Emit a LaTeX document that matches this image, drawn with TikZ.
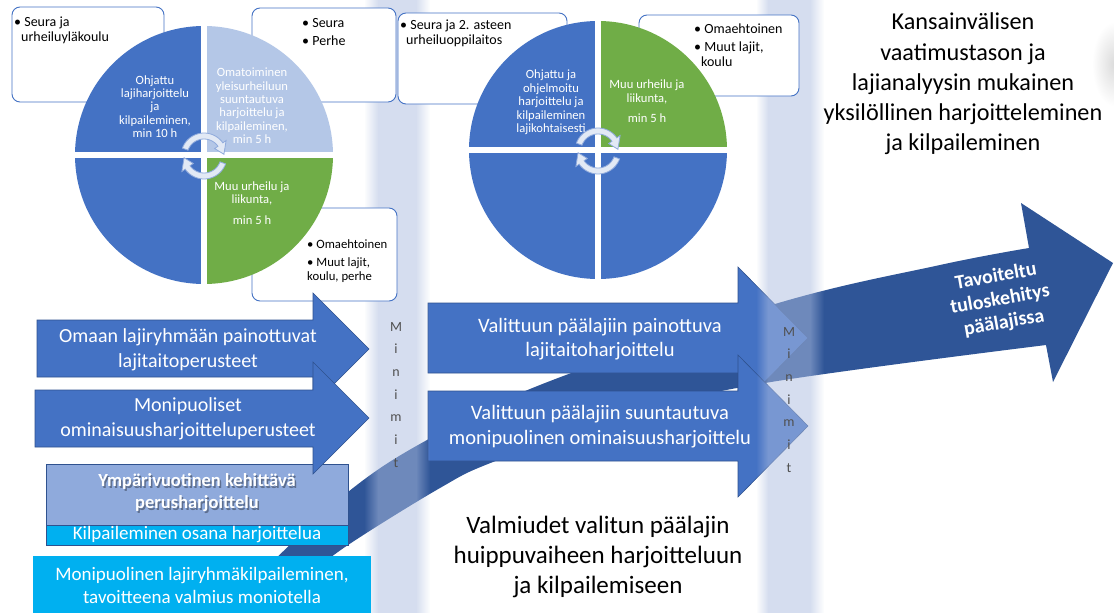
\documentclass[tikz,border=0pt]{standalone}
\usepackage{fontspec}
\setmainfont{Carlito}
\usetikzlibrary{fadings}
\definecolor{blueA}{HTML}{4472C4}
\definecolor{blueL}{HTML}{B4C7E7}
\definecolor{greenA}{HTML}{70AD47}
\definecolor{bigC}{HTML}{2F5597}
\definecolor{outC}{HTML}{2F528F}
\definecolor{ympC}{HTML}{8FAADC}
\definecolor{cyanC}{HTML}{00B0F0}
\definecolor{bandC}{HTML}{ADBDE0}
\definecolor{minC}{HTML}{505050}
\definecolor{caFill}{HTML}{E2E9F5}
\definecolor{caDraw}{HTML}{8FAADC}
\tikzfading[name=rkfadeL, left color=transparent!100, right color=transparent!0]
\tikzfading[name=rkfadeR, left color=transparent!0, right color=transparent!100]
\tikzset{
  blockarrow/.style={fill=blueA, draw=outC, line width=0.6pt},
  calloutbox/.style={fill=white, draw=blueA, line width=0.9pt, rounded corners=8pt},
  circarrow/.style={fill=caFill, draw=caDraw, line width=0.8pt},
  bandpart/.style={fill=bandC, fill opacity=0.5},
  qtext/.style={text=white, align=center, font=\fontsize{12.6}{13.4}\selectfont, inner sep=0pt},
  btext/.style={align=left, font=\fontsize{14}{15}\selectfont, inner sep=0pt, anchor=west, text=black},
  atext/.style={text=white, align=center, inner sep=0pt},
  mletter/.style={text=minC, font=\fontsize{14}{14}\selectfont, inner sep=0pt, anchor=base},
  bigtext/.style={text=black, align=center, inner sep=0pt},
}
\newcommand{\rkcircarrows}[2]{%
  \filldraw[circarrow] plot[domain=160:35, samples=25] ({#1+23*cos(\x)},{#2-23*sin(\x)})
    -- ({#1+27*cos(35)},{#2-27*sin(35)}) -- ({#1+20*cos(5)},{#2-20*sin(5)})
    -- ({#1+13*cos(35)},{#2-13*sin(35)})
    -- plot[domain=35:160, samples=25] ({#1+17*cos(\x)},{#2-17*sin(\x)}) -- cycle;
  \filldraw[circarrow] plot[domain=-20:-145, samples=25] ({#1+23*cos(\x)},{#2-23*sin(\x)})
    -- ({#1+27*cos(-145)},{#2-27*sin(-145)}) -- ({#1+20*cos(-175)},{#2-20*sin(-175)})
    -- ({#1+13*cos(-145)},{#2-13*sin(-145)})
    -- plot[domain=-145:-20, samples=25] ({#1+17*cos(\x)},{#2-17*sin(\x)}) -- cycle;
}
\begin{document}
\begin{tikzpicture}[x=1pt, y=-1pt]
\useasboundingbox (0,0) rectangle (1114,613);
\fill[white] (0,0) rectangle (1114,613);
% shadow blob top right
\shade[inner color=black!14, outer color=white] (1114,64) ellipse[x radius=22, y radius=42];

% big diagonal arrow
\fill[bigC] plot[smooth, tension=0.6] coordinates {(262,572) (348,492) (427,440) (545,383) (775,304) (940,265) (1029,248)}
  -- (1021,203) -- (1113,263) -- (1053,382)
  -- plot[smooth, tension=0.6] coordinates {(1046,345) (765,383) (620,417) (493,462) (440,488) (348,545) (305,578)} -- cycle;

% middle arrows
\filldraw[blockarrow] (428,303) -- (738,303) -- (738,267) -- (808,338) -- (738,409) -- (738,373) -- (428,373) -- cycle;
\filldraw[blockarrow] (428,391) -- (738,391) -- (738,355) -- (808,426) -- (738,497) -- (738,461) -- (428,461) -- cycle;

% vertical bands
\fill[bandpart, path fading=rkfadeL] (364,0) rectangle (378,613);
\fill[bandpart] (378,0) rectangle (416,613);
\fill[bandpart, path fading=rkfadeR] (416,0) rectangle (430,613);
\fill[bandpart, path fading=rkfadeL] (756,0) rectangle (768,613);
\fill[bandpart] (768,0) rectangle (810,613);
\fill[bandpart, path fading=rkfadeR] (810,0) rectangle (824,613);

% callout boxes
\draw[calloutbox] (12,7) rectangle (164,102);
\draw[calloutbox] (252,8) rectangle (396,102);
\draw[calloutbox] (398,13) rectangle (567,104);
\draw[calloutbox] (639,15) rectangle (799,96);
\draw[calloutbox] (252,208) rectangle (397,301);

% circle 1
\begin{scope}
  \clip (204,155) circle[radius=129];
  \fill[blueA] (70,20) rectangle (201,152);
  \fill[blueL] (207,20) rectangle (340,152);
  \fill[blueA] (70,158) rectangle (201,290);
  \fill[greenA] (207,158) rectangle (340,290);
\end{scope}
% circle 2
\begin{scope}
  \clip (598,150) circle[radius=129];
  \fill[blueA] (460,15) rectangle (595,147);
  \fill[greenA] (601,15) rectangle (735,147);
  \fill[blueA] (460,153) rectangle (595,285);
  \fill[blueA] (601,153) rectangle (735,285);
\end{scope}
\rkcircarrows{204}{156}
\rkcircarrows{598}{151}

% left boxes
\filldraw[fill=ympC, draw=outC, line width=0.8pt] (46,464) rectangle (348,525);
\filldraw[fill=cyanC, draw=outC, line width=0.8pt] (46,525) rectangle (348,545);
\fill[cyanC] (33,556) rectangle (371,613);

% left arrows
\filldraw[blockarrow] (37,320) -- (313,320) -- (313,293) -- (369,349) -- (313,405) -- (313,377) -- (37,377) -- cycle;
\filldraw[blockarrow] (35,390) -- (313,390) -- (313,362) -- (369,418) -- (313,474) -- (313,447) -- (35,447) -- cycle;

% callout texts
\node[btext] (b1) at (14,30.5) {• Seura ja\\\hspace*{7pt}urheiluyläkoulu};
\node[btext, font=\fontsize{14}{18}\selectfont] (b2) at (302,32) {• Seura\\• Perhe};
\node[btext] (b3) at (400,33.5) {• Seura ja 2. asteen\\\hspace*{6pt}urheiluoppilaitos};
\node[btext] (b4) at (694,45.5) {• Omaehtoinen\\[3pt]• Muut lajit,\\\hspace*{7pt}koulu};
\node[btext, font=\fontsize{12.7}{14}\selectfont] (b5) at (307,261) {• Omaehtoinen\\[4pt]• Muut lajit,\\koulu, perhe};

% quadrant texts
\node[qtext] (q1) at (155,106.5) {Ohjattu\\lajiharjoittelu\\ja\\kilpaileminen,\\min 10 h};
\node[qtext] (q2) at (252,106) {Omatoiminen\\yleisurheiluun\\suuntautuva\\harjoittelu ja\\kilpaileminen,\\min 5 h};
\node[qtext] (q3) at (252,203) {Muu urheilu ja\\liikunta,\\[7pt]min 5 h};
\node[qtext] (q4) at (551,102.5) {Ohjattu ja\\ohjelmoitu\\harjoittelu ja\\kilpaileminen\\lajikohtaisesti};
\node[qtext] (q5) at (647,101.5) {Muu urheilu ja\\liikunta,\\[7pt]min 5 h};

% arrow texts
\node[atext, font=\fontsize{20}{25}\selectfont] (a1) at (188,349.5) {Omaan lajiryhmään painottuvat\\lajitaitoperusteet};
\node[atext, font=\fontsize{20}{25}\selectfont] (a2) at (188,418.5) {Monipuoliset\\ominaisuusharjoitteluperusteet};
\node[atext, font=\fontsize{20.5}{24}\selectfont] (a3) at (600,339) {Valittuun päälajiin painottuva\\lajitaitoharjoittelu};
\node[atext, font=\fontsize{20.5}{25}\selectfont] (a4) at (600,426.5) {Valittuun päälajiin suuntautuva\\monipuolinen ominaisuusharjoittelu};

% left box texts
\node[atext, text=black, opacity=0.35, font=\bfseries\fontsize{18.5}{22}\selectfont] (ys) at (198.5,494.5) {Ympärivuotinen kehittävä\\perusharjoittelu};
\node[atext, font=\bfseries\fontsize{18.5}{22}\selectfont] (y1) at (197,493) {Ympärivuotinen kehittävä\\perusharjoittelu};
\node[atext, font=\fontsize{19}{20}\selectfont] (k1) at (197,535) {Kilpaileminen osana harjoittelua};
\node[atext, font=\fontsize{19}{23}\selectfont] (m1) at (202,585.5) {Monipuolinen lajiryhmäkilpaileminen,\\tavoitteena valmius moniotella};

% big texts
\node[bigtext, font=\fontsize{24.2}{30.3}\selectfont] (r1) at (963,84) {Kansainvälisen\\vaatimustason ja\\lajianalyysin mukainen\\yksilöllinen harjoitteleminen\\ja kilpaileminen};
\node[bigtext, font=\fontsize{25}{30}\selectfont] (v1) at (598,557) {Valmiudet valitun päälajin\\huippuvaiheen harjoitteluun\\ja kilpailemiseen};
\node[atext, rotate=10, font=\bfseries\fontsize{20}{23.5}\selectfont] (tv) at (1000,300) {Tavoiteltu\\tuloskehitys\\päälajissa};

% Minimit letters
\foreach \ch [count=\i from 0] in {M,i,n,i,m,i,t} {
  \node[mletter] (mA\i) at (396,{331+22.7*\i}) {\ch};
  \node[mletter] (mB\i) at (789,{336+22.7*\i}) {\ch};
}
\end{tikzpicture}
\end{document}
